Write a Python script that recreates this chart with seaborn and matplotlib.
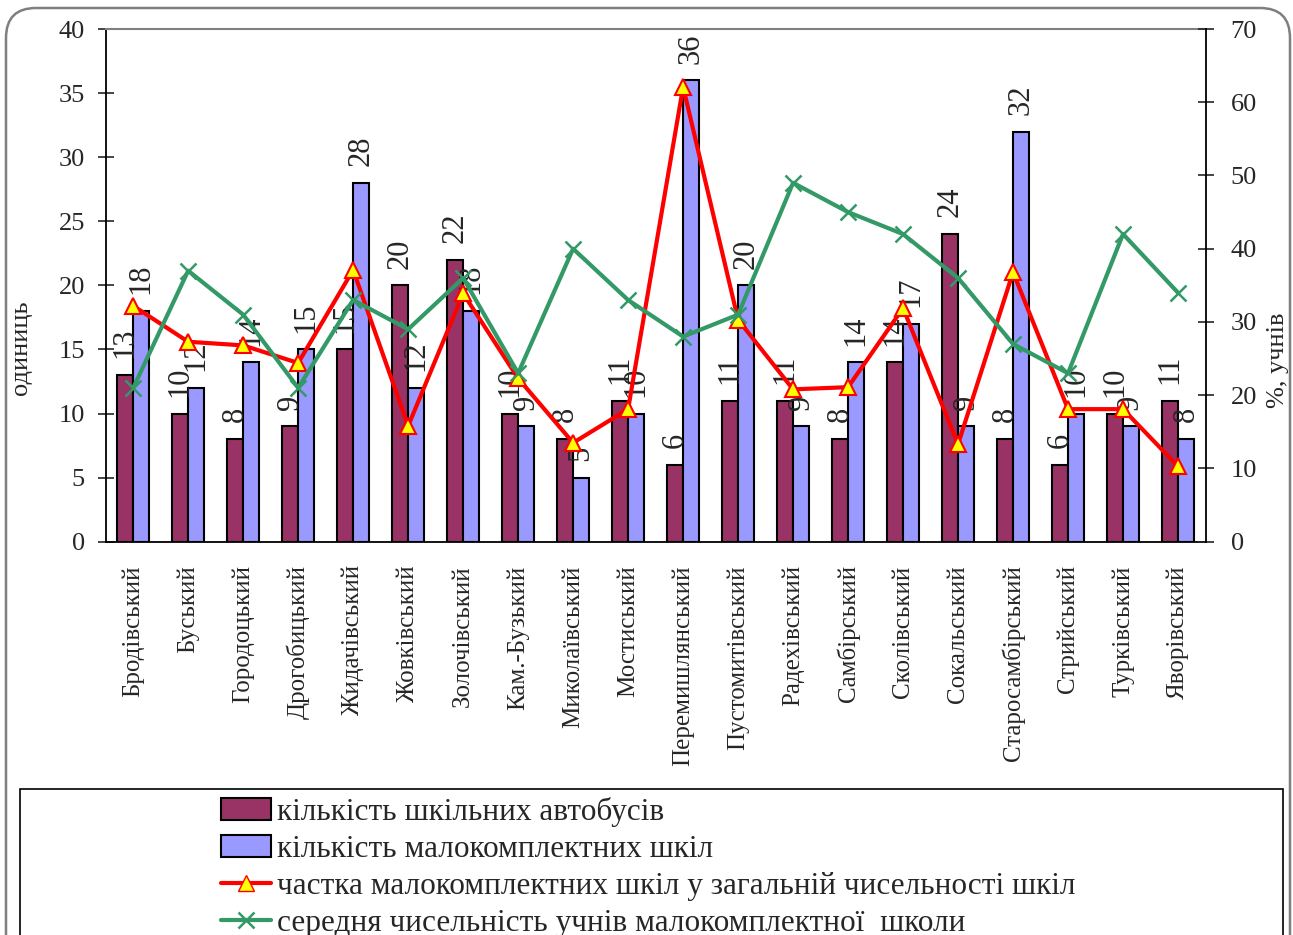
import numpy as np
import pandas as pd
import matplotlib
matplotlib.use("Agg")
import matplotlib.pyplot as plt
from matplotlib.patches import FancyBboxPatch, Rectangle, Patch
from matplotlib.lines import Line2D
from matplotlib.transforms import IdentityTransform
import seaborn as sns

# райони
districts = ["Бродівський", "Буський", "Городоцький", "Дрогобицький",
             "Жидачівський", "Жовківський", "Золочівський", "Кам.-Бузький",
             "Миколаївський", "Мостиський", "Перемишлянський",
             "Пустомитівський", "Радехівський", "Самбірський", "Сколівський",
             "Сокальський", "Старосамбірський", "Стрийський", "Турківський",
             "Яворівський"]
buses = [13, 10, 8, 9, 15, 20, 22, 10, 8, 11, 6, 11, 11, 8, 14, 24, 8, 6, 10, 11]
small_schools = [18, 12, 14, 15, 28, 12, 18, 9, 5, 10, 36, 20, 9, 14, 17, 9,
                 32, 10, 9, 8]
# права вісь, %
share = [32.2, 27.3, 26.8, 24.4, 37.1, 15.8, 33.9, 22.3, 13.5, 18.1, 62.1,
         30.3, 20.8, 21.1, 31.9, 13.3, 36.8, 18.1, 18.1, 10.3]
avg_pupils = [21, 37, 31, 21, 33, 29, 36, 23, 40, 33, 28, 31, 49, 45, 42, 36,
              27, 23, 42, 34]

series_names = ["кількість шкільних автобусів",
                "кількість малокомплектних шкіл",
                "частка малокомплектних шкіл у загальній чисельності шкіл",
                "середня чисельність учнів малокомплектної  школи"]

sns.set_style("white")
plt.rcParams["font.family"] = ["Liberation Serif", "DejaVu Serif"]

df = pd.DataFrame({"район": districts * 2,
                   "значення": buses + small_schools,
                   "ряд": [series_names[0]] * len(districts)
                          + [series_names[1]] * len(districts)})

fig = plt.figure(figsize=(12.93, 9.35), dpi=100)
ax = fig.add_axes([105.7 / 1293, 1 - 541.7 / 935,
                   (1205.5 - 105.7) / 1293, (541.7 - 29) / 935])

sns.barplot(data=df, x="район", y="значення", hue="ряд", ax=ax,
            palette=["#993366", "#9999FF"], edgecolor="black", linewidth=1.5,
            width=0.58, saturation=1, legend=False)
for cont in ax.containers:
    ax.bar_label(cont, rotation=90, padding=12, fontsize=22)

ax.set_ylim(0, 40)
ax.set_xlim(-0.5, len(districts) - 0.5)
ax.set_yticks(range(0, 41, 5))
ax.set_xticks(range(len(districts)))
ax.set_xticklabels(districts, rotation=90)
ax.set_xticks(np.arange(-0.5, len(districts)), minor=True)
ax.tick_params(axis="x", which="major", length=0, pad=17, labelsize=18)
ax.tick_params(axis="x", which="minor", length=12, width=1.2,
               direction="inout")
ax.tick_params(axis="y", length=12, width=1.2, direction="inout", pad=9,
               labelsize=19)
ax.set_xlabel("")
ax.set_ylabel("одиниць", fontsize=19)
ax.yaxis.set_label_coords(-0.067, 0.378)
for s in ["left", "bottom"]:
    ax.spines[s].set_color("black")
    ax.spines[s].set_linewidth(1.3)
ax.spines["top"].set_color("#808080")
ax.spines["top"].set_linewidth(1.5)
ax.spines["right"].set_visible(False)

# права вісь
ax2 = ax.twinx()
pos = np.arange(len(districts))
sns.lineplot(x=pos, y=share, ax=ax2, color="#FF0000", linewidth=3,
             marker="^", markersize=12, markerfacecolor="#FFFF00",
             markeredgecolor="#FF0000", markeredgewidth=1.5)
sns.lineplot(x=pos, y=avg_pupils, ax=ax2, color="#339966", linewidth=3,
             marker="x", markersize=12, markeredgecolor="#339966",
             markeredgewidth=1.8)
ax2.set_ylim(0, 70)
ax2.set_xlim(-0.5, len(districts) - 0.5)
ax2.set_yticks(range(0, 71, 10))
ax2.tick_params(axis="y", length=12, width=1.2, direction="inout", pad=12,
                labelsize=19)
ax2.set_ylabel("%, учнів", fontsize=19)
ax2.yaxis.set_label_coords(1.056, 0.354)
for s in ["left", "top", "bottom"]:
    ax2.spines[s].set_visible(False)
ax2.spines["right"].set_color("black")
ax2.spines["right"].set_linewidth(1.3)

# легенда
handles = [Patch(facecolor="#993366", edgecolor="black", linewidth=1.5),
           Patch(facecolor="#9999FF", edgecolor="black", linewidth=1.5),
           Line2D([], [], color="#FF0000", linewidth=3, marker="^",
                  markersize=12, markerfacecolor="#FFFF00",
                  markeredgecolor="#FF0000"),
           Line2D([], [], color="#339966", linewidth=3, marker="x",
                  markersize=12, markeredgewidth=1.8)]
fig.legend(handles, series_names, loc="upper left",
           bbox_to_anchor=(205 / 1293, 1 - 781 / 935), frameon=False,
           fontsize=22.5, handlelength=1.6, handleheight=0.7,
           handletextpad=0.2, labelspacing=0.26, borderpad=0, numpoints=1)

# рамки
fig.add_artist(Rectangle((20, -20), 1263, 935 - 789 + 20,
                         transform=IdentityTransform(), fill=False,
                         edgecolor="black", linewidth=1.2))
fig.add_artist(FancyBboxPatch((6, -60), 1284, 927 + 60,
                              boxstyle="round,pad=0,rounding_size=30",
                              transform=IdentityTransform(), fill=False,
                              edgecolor="#7f7f7f", linewidth=1.8))

fig.savefig("out.png", dpi=100)
